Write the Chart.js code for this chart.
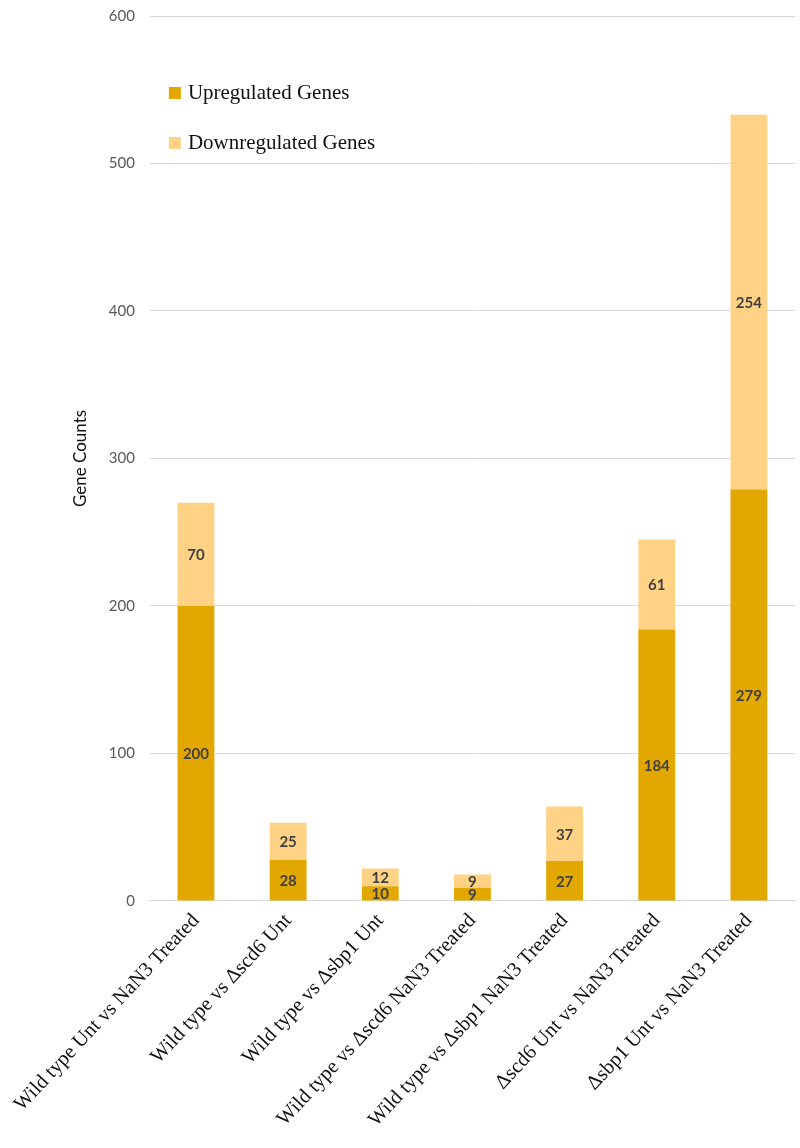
<!DOCTYPE html>
<html>
<head>
<meta charset="utf-8">
<script src="https://cdn.jsdelivr.net/npm/chart.js@4.4.1/dist/chart.umd.min.js"></script>
<style>
  html, body { margin: 0; padding: 0; background: #ffffff; }
  #wrap { width: 800px; height: 1148px; position: relative; }
</style>
</head>
<body>
<div id="wrap"><canvas id="geneChart"></canvas></div>
<script>
const comparisons = [
    'Wild type Unt vs NaN3 Treated',
    'Wild type vs \u0394scd6 Unt',
    'Wild type vs \u0394sbp1 Unt',
    'Wild type vs \u0394scd6 NaN3 Treated',
    'Wild type vs \u0394sbp1 NaN3 Treated',
    '\u0394scd6 Unt vs NaN3 Treated',
    '\u0394sbp1 Unt vs NaN3 Treated'
];
const upregulated = [200, 28, 10, 9, 27, 184, 279];
const downregulated = [70, 25, 12, 9, 37, 61, 254];
const yTicks = [0, 100, 200, 300, 400, 500, 600];

const upColor = '#e2a800';
const downColor = '#ffd285';
const tickColor = '#595959';
const gridColor = '#d9d9d9';

// Numbers written in the middle of each bar segment
const segmentLabels = {
    id: 'segmentLabels',
    afterDatasetsDraw(chart) {
        const ctx = chart.ctx;
        ctx.save();
        ctx.font = 'bold 15px Lato, "Open Sans", sans-serif';
        ctx.fillStyle = '#404040';
        ctx.textAlign = 'center';
        ctx.textBaseline = 'middle';
        chart.data.datasets.forEach((ds, i) => {
            const meta = chart.getDatasetMeta(i);
            meta.data.forEach((bar, j) => {
                const mid = (bar.y + bar.base) / 2;
                ctx.fillText(String(ds.data[j]), bar.x, mid + 1);
            });
        });
        ctx.restore();
    }
};

// Legend drawn inside the plot area, top left
const insideLegend = {
    id: 'insideLegend',
    afterDraw(chart) {
        const ctx = chart.ctx;
        const area = chart.chartArea;
        ctx.save();
        ctx.font = '21px "Liberation Serif", "DejaVu Serif", serif';
        ctx.textBaseline = 'middle';
        ctx.textAlign = 'left';
        chart.data.datasets.forEach((ds, i) => {
            const y = area.top + 77 + i * 50;
            const x = area.left + 19;
            ctx.fillStyle = ds.backgroundColor;
            ctx.fillRect(x, y - 6, 12, 12);
            ctx.fillStyle = '#111111';
            ctx.fillText(ds.label, x + 19, y);
        });
        ctx.restore();
    }
};

const ctx = document.getElementById('geneChart').getContext('2d');
new Chart(ctx, {
    type: 'bar',
    data: {
        labels: comparisons,
        datasets: [{
            label: 'Upregulated Genes',
            data: upregulated,
            backgroundColor: upColor,
            borderWidth: 0
        }, {
            label: 'Downregulated Genes',
            data: downregulated,
            backgroundColor: downColor,
            borderWidth: 0
        }]
    },
    options: {
        responsive: true,
        maintainAspectRatio: false,
        animation: false,
        layout: {
            padding: { top: 16, right: 5, left: 61, bottom: 8 }
        },
        datasets: {
            bar: {
                categoryPercentage: 1,
                barPercentage: 0.4
            }
        },
        scales: {
            x: {
                stacked: true,
                grid: { display: false, drawTicks: false },
                border: { color: gridColor, width: 1 },
                ticks: {
                    color: '#111111',
                    minRotation: 47,
                    maxRotation: 47,
                    autoSkip: false,
                    padding: 8,
                    font: { family: '"Liberation Serif", "DejaVu Serif", serif', size: 20.5 }
                }
            },
            y: {
                stacked: true,
                min: 0,
                max: 600,
                afterBuildTicks: (axis) => {
                    axis.ticks = yTicks.map(v => ({ value: v }));
                },
                // tick padding would otherwise push the plot top down
                afterFit: (axis) => {
                    axis.paddingTop = 8;
                },
                grid: { color: gridColor, drawTicks: false },
                border: { display: false },
                title: {
                    display: true,
                    text: 'Gene Counts',
                    color: '#111111',
                    padding: { top: 0, bottom: 3 },
                    font: { family: 'Lato, "Open Sans", sans-serif', size: 17 }
                },
                ticks: {
                    color: tickColor,
                    padding: 15,
                    font: { family: 'Lato, "Open Sans", sans-serif', size: 15 }
                }
            }
        },
        plugins: {
            legend: { display: false },
            tooltip: { enabled: false }
        }
    },
    plugins: [segmentLabels, insideLegend]
});
</script>
</body>
</html>
